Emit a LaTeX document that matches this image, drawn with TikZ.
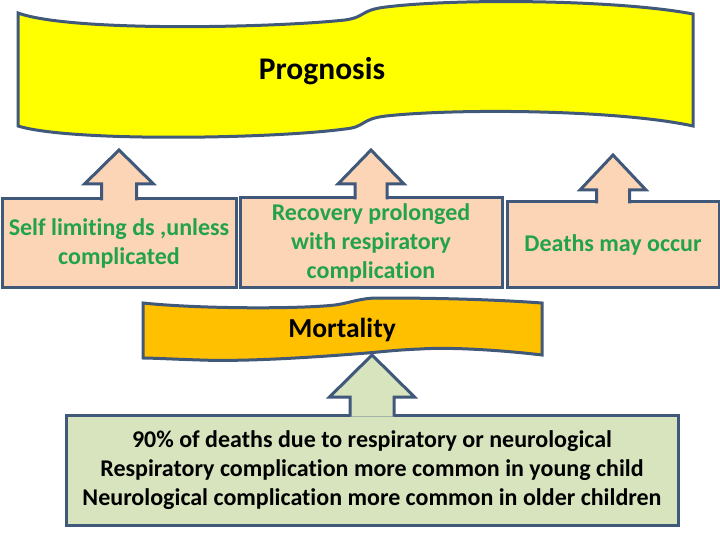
\documentclass[tikz,border=0pt]{standalone}
\usepackage{fontspec}
\setmainfont{Carlito}[Ligatures=NoCommon]
\usetikzlibrary{calc}
\definecolor{bord}{HTML}{40587A}
\definecolor{pinkfill}{HTML}{FBD5B5}
\definecolor{olivefill}{HTML}{D7E4BD}
\definecolor{bannery}{HTML}{FFFF00}
\definecolor{bannero}{HTML}{FFC000}
\definecolor{txtg}{HTML}{22A24A}
\tikzset{
  outl/.style={draw=bord, line width=3pt, line join=miter},
  pinkbox/.style={outl, fill=pinkfill, outer sep=0pt, inner sep=0pt, align=center,
     text=txtg, font=\bfseries\fontsize{24}{29}\selectfont},
  olivebox/.style={outl, fill=olivefill, outer sep=0pt, inner sep=0pt, align=center,
     text=black, font=\bfseries\fontsize{24}{29}\selectfont},
  bannertext/.style={text=black, font=\bfseries\fontsize{27.5}{32}\selectfont}
}
% block up-arrow on top of a box: node, shaft half width, head half width, head base height, tip height, fill
\newcommand{\uparrowblock}[6]{%
  \path[outl, fill=#6] ($(#1.north)+(-#2,1.5)$) -- ($(#1.north)+(-#2,-#4)$)
     -- ($(#1.north)+(-#3,-#4)$) -- ($(#1.north)+(0,-#5)$)
     -- ($(#1.north)+(#3,-#4)$) -- ($(#1.north)+(#2,-#4)$)
     -- ($(#1.north)+(#2,1.5)$);}
\begin{document}
\begin{tikzpicture}[x=1pt,y=-1pt]
\useasboundingbox (0,0) rectangle (720,540);
% Prognosis banner
\path[outl, fill=bannery] (18,13) .. controls (70,32) and (270,28) .. (345,20)
  .. controls (366,17) and (360,10) .. (386,7)
  .. controls (460,-2) and (620,0) .. (693,14) -- (693,126)
  .. controls (620,110) and (460,108) .. (386,116)
  .. controls (360,119) and (366,127) .. (345,129)
  .. controls (270,139) and (70,142) .. (18,126) -- cycle;
\node[bannertext, font=\bfseries\fontsize{31.5}{36}\selectfont] (prog) at (322,71) {Prognosis};
% boxes
\node[pinkbox, minimum width=234pt, minimum height=88pt] (b1) at (119,243)
  {Self limiting ds ,unless\\complicated};
\node[pinkbox, minimum width=262pt, minimum height=89pt] (b2) at (371,242.5)
  {Recovery prolonged\\with respiratory\\complication};
\node[pinkbox, minimum width=212pt, minimum height=85pt] (b3) at (613,244.5)
  {Deaths may occur};
\uparrowblock{b1}{17.5}{34.5}{15}{49}{pinkfill}
\uparrowblock{b2}{16}{33}{14}{48}{pinkfill}
\uparrowblock{b3}{16.5}{33}{12}{47}{pinkfill}
% Mortality banner
\path[outl, fill=bannero] (143,303) .. controls (200,309) and (300,309) .. (335,305)
  .. controls (350,303) and (360,298) .. (378,298)
  .. controls (450,298) and (500,300) .. (542,303) -- (542,355)
  .. controls (500,350) and (450,347) .. (420,349)
  .. controls (395,350) and (380,352) .. (367,353)
  .. controls (330,356) and (250,362) .. (200,360)
  .. controls (170,359) and (150,358) .. (143,358) -- cycle;
\node[bannertext] (mort) at (342,330) {Mortality};
% bottom box
\node[olivebox, minimum width=612pt, minimum height=110pt] (b4) at (372,470)
  {90\% of deaths due to respiratory or neurological\\
   Respiratory complication more common in young child\\
   Neurological complication more common in older children};
\uparrowblock{b4}{22}{42.5}{18}{60}{olivefill}
\end{tikzpicture}
\end{document}
